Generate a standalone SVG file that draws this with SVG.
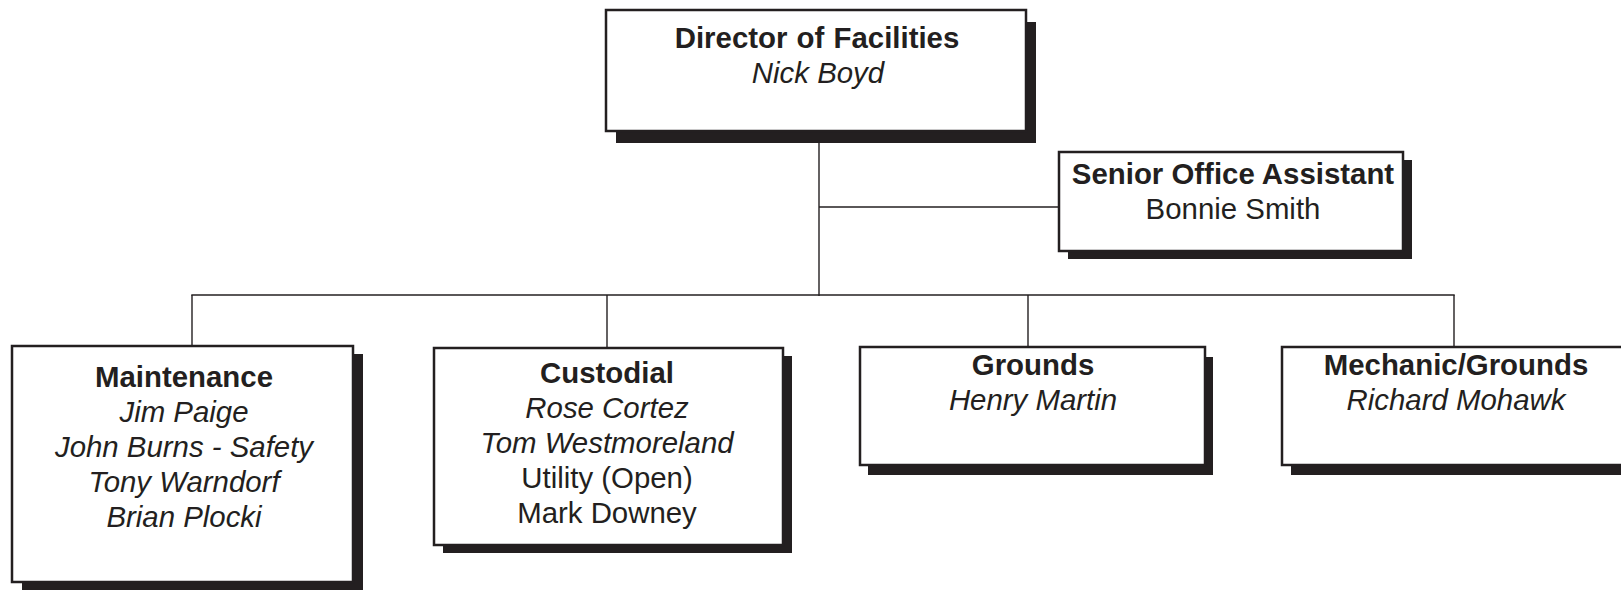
<svg xmlns="http://www.w3.org/2000/svg" width="1621" height="590" viewBox="0 0 1621 590">
<style>
.sh{fill:#231f20;stroke:none}
.bx{fill:#ffffff;stroke:#231f20;stroke-width:2.5}
.ln{stroke:#231f20;stroke-width:1.4;fill:none}
text{font-family:"Liberation Sans",Arial,sans-serif;font-size:29.4px;fill:#231f20;text-anchor:middle}
.b{font-weight:bold}
.i{font-style:italic}
</style>
<rect width="1621" height="590" fill="#ffffff"/>
<g id="connectors">
<line class="ln" x1="819" y1="131" x2="819" y2="296"/>
<line class="ln" x1="819" y1="207" x2="1059" y2="207"/>
<line class="ln" x1="191.3" y1="295" x2="1454.7" y2="295"/>
<line class="ln" x1="192" y1="295" x2="192" y2="346"/>
<line class="ln" x1="607" y1="295" x2="607" y2="348"/>
<line class="ln" x1="1028" y1="295" x2="1028" y2="347"/>
<line class="ln" x1="1454" y1="295" x2="1454" y2="347"/>
</g>
<g id="director">
<rect class="sh" x="616" y="22" width="420" height="121"/>
<rect class="bx" x="606" y="10" width="420" height="121"/>
<text class="b" x="817" y="48" word-spacing="1">Director of Facilities</text>
<text class="i" x="818" y="83">Nick Boyd</text>
</g>
<g id="senior-office-assistant">
<rect class="sh" x="1068" y="160" width="344" height="99"/>
<rect class="bx" x="1059" y="152" width="344" height="99"/>
<text class="b" x="1233" y="184">Senior Office Assistant</text>
<text x="1233" y="219">Bonnie Smith</text>
</g>
<g id="maintenance">
<rect class="sh" x="22" y="354" width="341" height="236"/>
<rect class="bx" x="12" y="346" width="341" height="236"/>
<text class="b" x="184" y="387">Maintenance</text>
<text class="i" x="184" y="422">Jim Paige</text>
<text class="i" x="184" y="457">John Burns - Safety</text>
<text class="i" x="184" y="492">Tony Warndorf</text>
<text class="i" x="184" y="527">Brian Plocki</text>
</g>
<g id="custodial">
<rect class="sh" x="443" y="356" width="349" height="197"/>
<rect class="bx" x="434" y="348" width="349" height="197"/>
<text class="b" x="607" y="383">Custodial</text>
<text class="i" x="607" y="418">Rose Cortez</text>
<text class="i" x="607" y="453">Tom  Westmoreland</text>
<text x="607" y="488">Utility (Open)</text>
<text x="607" y="523">Mark Downey</text>
</g>
<g id="grounds">
<rect class="sh" x="868" y="357" width="345" height="118"/>
<rect class="bx" x="860" y="347" width="345" height="118"/>
<text class="b" x="1033" y="375">Grounds</text>
<text class="i" x="1033" y="410">Henry Martin</text>
</g>
<g id="mechanic-grounds">
<rect class="sh" x="1291" y="357" width="348" height="118"/>
<rect class="bx" x="1282" y="347" width="348" height="118"/>
<text class="b" x="1456" y="375">Mechanic/Grounds</text>
<text class="i" x="1456" y="410">Richard Mohawk</text>
</g>
</svg>
